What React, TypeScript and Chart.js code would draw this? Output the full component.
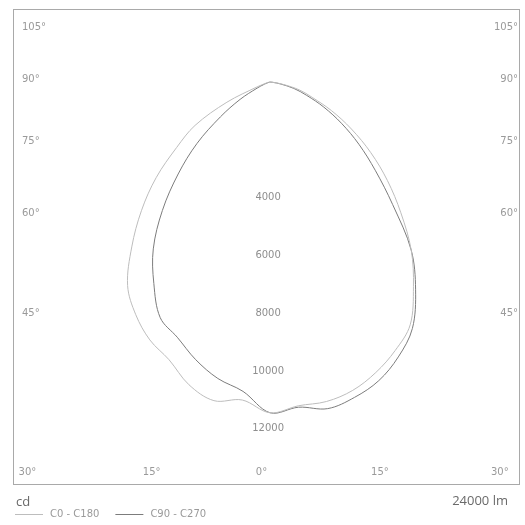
import React, { useEffect, useRef } from "react";
import { Chart, registerables } from "chart.js";

Chart.register(...registerables);

// Gamma angles (degrees from nadir); negative = left half-plane
const gammaAngles = [
  -90, -85, -80, -75, -70, -65, -60, -55, -50, -45, -40, -35, -30, -25, -20, -15, -10, -5,
  0, 5, 10, 15, 20, 25, 30, 35, 40, 45, 50, 55, 60, 65, 70, 75, 80, 85, 90,
];

// Luminous intensity (cd) — C0 - C180 plane
const c0c180 = [
  0, 15, 50, 150, 450, 1650, 3000, 3950, 5150, 6300, 7450, 8600, 9300, 9850, 10230, 10850, 11200, 11050,
  11450, 11250, 11230, 11050, 10700, 10250, 9700, 8650, 7600, 6400, 5300, 4250, 3250, 2350, 1550, 1050, 450, 100, 0,
];

// Luminous intensity (cd) — C90 - C270 plane
const c90c270 = [
  0, 10, 30, 80, 200, 500, 1200, 2100, 3300, 4500, 5800, 7050, 8050, 9000, 9400, 9950, 10420, 10750,
  11450, 11300, 11480, 11300, 11000, 10500, 9850, 8780, 7600, 6000, 4750, 3750, 2850, 2050, 1350, 850, 350, 80, 0,
];

const seriesLabels = ["C0 - C180", "C90 - C270"];
const seriesColors = ["#bdbdbd", "#7c7c7c"];

const ringValues = [4000, 6000, 8000, 10000, 12000];

const sideAngleLabels = ["105°", "90°", "75°", "60°", "45°"];
const sideTickValues = [1900, 100, -2050, -4550, -8000];

const bottomAngleLabels = ["30°", "15°", "0°", "15°", "30°"];
const bottomTickValues = [-8400, -4100, -300, 3800, 7950];

const xRange = [-8900, 8650];
const yRange = [-13950, 2530];

const unitLabel = "cd";
const fluxLabel = "24000 lm";

function toPoints(values: number[]) {
  return gammaAngles.map((g, i) => {
    const r = (g * Math.PI) / 180;
    return { x: values[i] * Math.sin(r), y: -values[i] * Math.cos(r) };
  });
}

const labelFont = { family: "'DejaVu Sans', sans-serif", size: 10 };

const decorPlugin = {
  id: "decor",
  afterDraw(chart: any) {
    const { ctx, chartArea, scales } = chart;
    const xs = scales.x;
    const ys = scales.y;
    ctx.save();
    // frame
    ctx.strokeStyle = "#a9a9a9";
    ctx.lineWidth = 1;
    ctx.strokeRect(
      Math.round(chartArea.left) + 0.5,
      Math.round(chartArea.top) + 0.5,
      Math.round(chartArea.right - chartArea.left) - 1,
      Math.round(chartArea.bottom - chartArea.top) - 1
    );
    // ring labels
    ctx.fillStyle = "#8e8e8e";
    ctx.font = "10px 'DejaVu Sans', sans-serif";
    ctx.textAlign = "center";
    ctx.textBaseline = "middle";
    const cx = xs.getPixelForValue(0) - 2;
    ringValues.forEach((v) => {
      ctx.fillText(String(v), cx, ys.getPixelForValue(-v));
    });
    // unit + flux
    ctx.fillStyle = "#6a6a6a";
    ctx.font = "13px 'Open Sans', sans-serif";
    ctx.textBaseline = "alphabetic";
    ctx.textAlign = "left";
    ctx.fillText(unitLabel, 16, 506);
    ctx.textAlign = "right";
    ctx.fillText(fluxLabel, 508, 505);
    // legend
    ctx.font = "10px 'DejaVu Sans', sans-serif";
    ctx.textAlign = "left";
    ctx.textBaseline = "middle";
    let lx = 15;
    const ly = 514;
    chart.data.datasets.forEach((ds: any) => {
      ctx.strokeStyle = ds.borderColor;
      ctx.lineWidth = 1;
      ctx.beginPath();
      ctx.moveTo(lx, ly + 0.5);
      ctx.lineTo(lx + 28, ly + 0.5);
      ctx.stroke();
      ctx.fillStyle = "#9a9a9a";
      ctx.fillText(ds.label, lx + 35, ly);
      lx += 35 + ctx.measureText(ds.label).width + 16;
    });
    ctx.restore();
  },
};

function zeroVertical(s: any) {
  s.width = 0;
  s.paddingTop = 0;
  s.paddingBottom = 0;
}
function zeroHorizontal(s: any) {
  s.height = 0;
  s.paddingLeft = 0;
  s.paddingRight = 0;
}

export default function App() {
  const canvasRef = useRef<HTMLCanvasElement | null>(null);

  useEffect(() => {
    if (!canvasRef.current) return;
    const common = {
      grid: { display: false, drawTicks: false },
      border: { display: false },
    };
    const chart = new Chart(canvasRef.current, {
      type: "scatter",
      data: {
        datasets: [
          {
            label: seriesLabels[0],
            data: toPoints(c0c180),
            showLine: true,
            borderColor: seriesColors[0],
            backgroundColor: seriesColors[0],
            borderWidth: 1,
            pointRadius: 0,
            tension: 0.35,
          },
          {
            label: seriesLabels[1],
            data: toPoints(c90c270),
            showLine: true,
            borderColor: seriesColors[1],
            backgroundColor: seriesColors[1],
            borderWidth: 1,
            pointRadius: 0,
            tension: 0.35,
          },
        ],
      },
      options: {
        animation: false,
        responsive: true,
        maintainAspectRatio: false,
        layout: { padding: { left: 13, right: 5, top: 9, bottom: 40 } },
        plugins: { legend: { display: false }, tooltip: { enabled: false } },
        scales: {
          x: {
            type: "linear",
            position: "bottom",
            min: xRange[0],
            max: xRange[1],
            ...common,
            afterFit: zeroHorizontal,
            afterBuildTicks: (s: any) => {
              s.ticks = bottomTickValues.map((v) => ({ value: v }));
            },
            ticks: {
              mirror: true,
              padding: 7,
              autoSkip: false,
              maxRotation: 0,
              minRotation: 0,
              color: "#9a9a9a",
              font: labelFont,
              callback: (_v: any, i: number) => bottomAngleLabels[i],
            },
          },
          y: {
            type: "linear",
            position: "left",
            min: yRange[0],
            max: yRange[1],
            ...common,
            afterFit: zeroVertical,
            afterBuildTicks: (s: any) => {
              s.ticks = sideTickValues.map((v) => ({ value: v }));
            },
            ticks: {
              mirror: true,
              padding: 9,
              autoSkip: false,
              color: "#9a9a9a",
              font: labelFont,
              callback: (_v: any, i: number) => sideAngleLabels[i],
            },
          },
          y2: {
            type: "linear",
            position: "right",
            min: yRange[0],
            max: yRange[1],
            ...common,
            afterFit: zeroVertical,
            afterBuildTicks: (s: any) => {
              s.ticks = sideTickValues.map((v) => ({ value: v }));
            },
            ticks: {
              mirror: true,
              padding: -2,
              autoSkip: false,
              color: "#9a9a9a",
              font: labelFont,
              callback: (_v: any, i: number) => sideAngleLabels[i],
            },
          },
        },
      } as any,
      plugins: [decorPlugin],
    });
    return () => chart.destroy();
  }, []);

  return (
    <div style={{ position: "absolute", left: 0, top: 0, width: "525px", height: "525px", background: "#fff" }}>
      <canvas ref={canvasRef} />
    </div>
  );
}
